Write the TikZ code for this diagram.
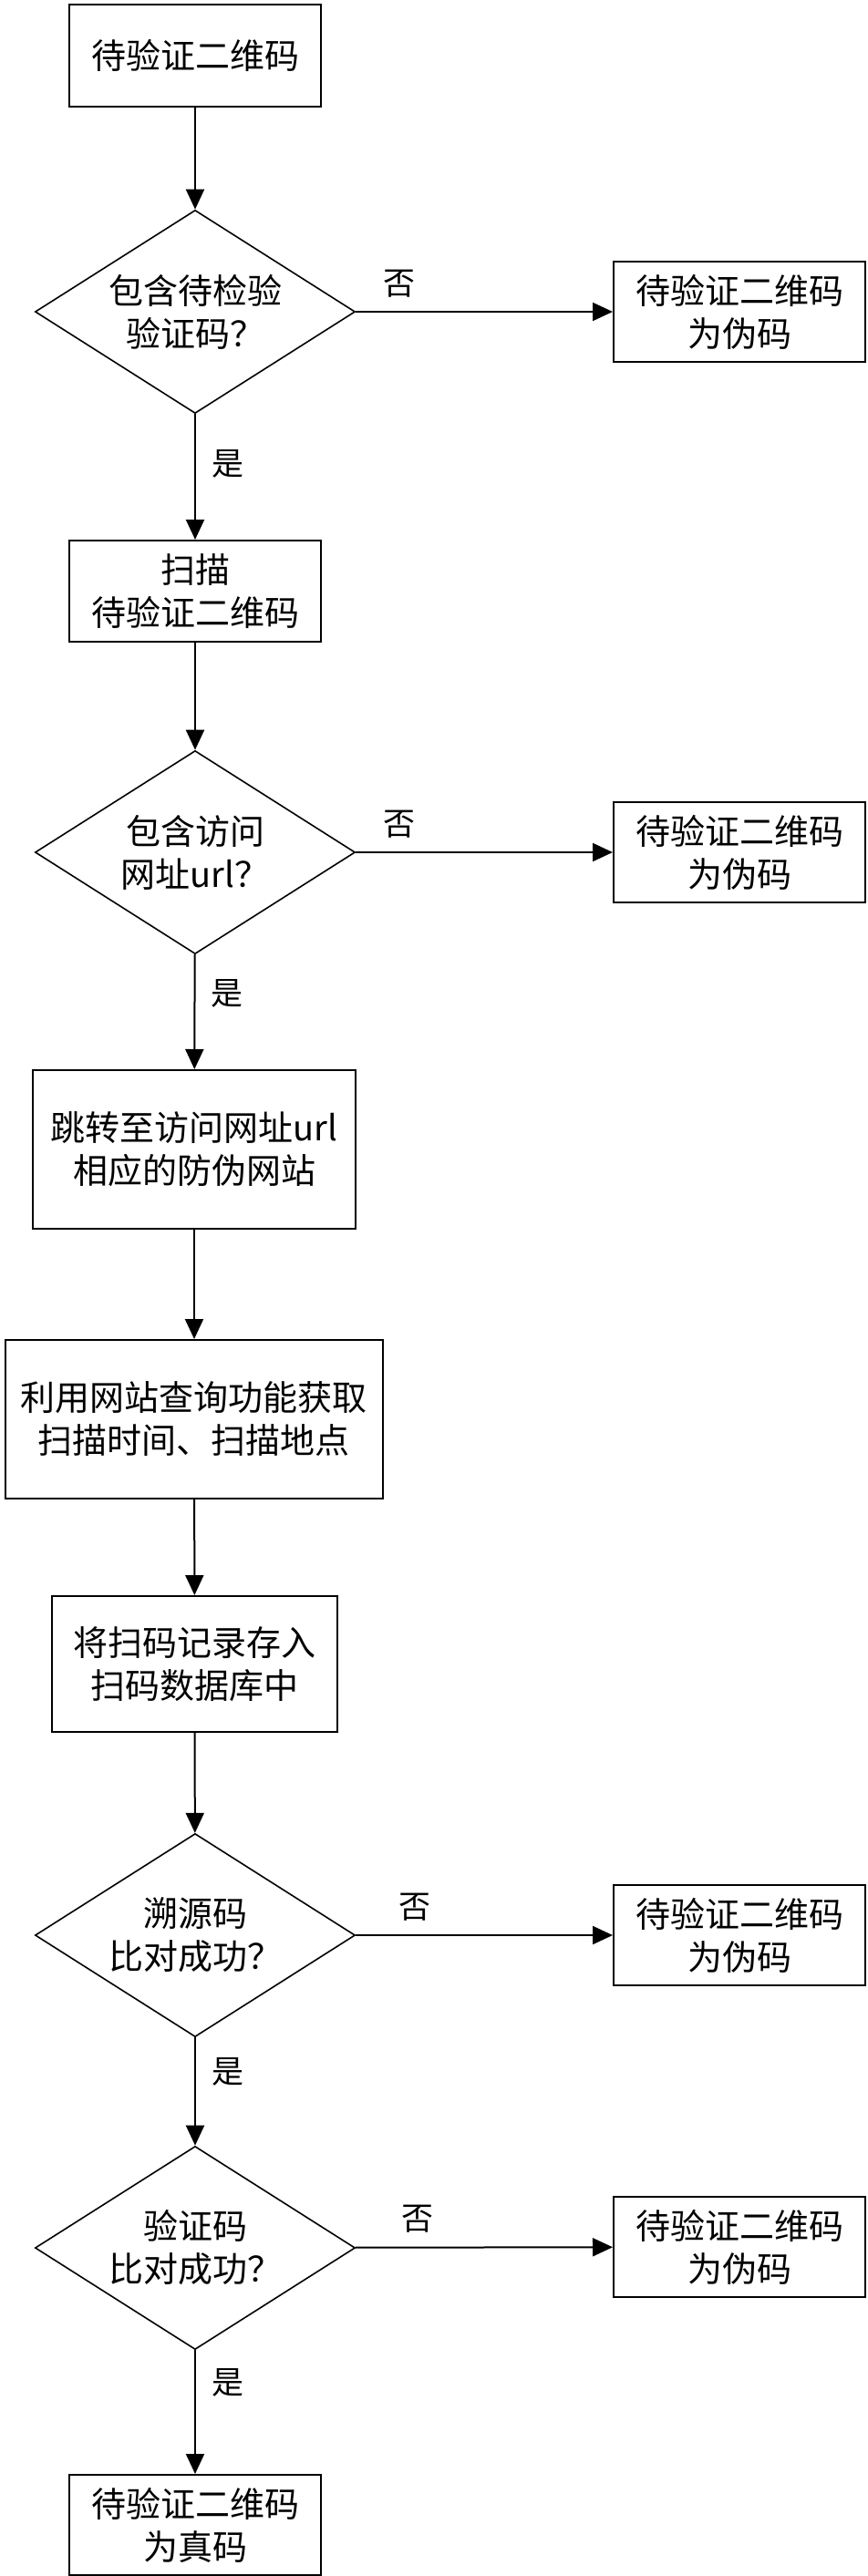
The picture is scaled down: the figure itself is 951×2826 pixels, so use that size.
\documentclass[tikz,border=0pt]{standalone}
\usepackage{fontspec}
\newfontfamily\cjk{Noto Sans CJK SC}
\usetikzlibrary{shapes.geometric}
\usetikzlibrary{arrows.meta}
\tikzset{stepbox/.style={draw, line width=2pt, align=center, inner sep=0pt, font=\cjk\fontsize{38}{47}\selectfont}}
\tikzset{fakebox/.style={stepbox, minimum width=276pt, minimum height=110pt}}
\tikzset{decision/.style={draw, diamond, line width=1.6pt, align=center, inner sep=0pt, aspect=1.57, minimum width=351pt, minimum height=223pt, font=\cjk\fontsize{38}{47}\selectfont}}
\tikzset{flow/.style={line width=2pt, -{Triangle[length=22pt,width=20pt]}}}
\tikzset{lbl/.style={font=\cjk\fontsize{35}{40}\selectfont, inner sep=3pt}}

\begin{document}
\begin{tikzpicture}[x=1pt, y=1pt]
\useasboundingbox (0,0) rectangle (951,-2826);
% main column
\node[stepbox, minimum width=276pt, minimum height=112pt] (start) at (214,-61) {待验证二维码};
\node[decision] (d1) at (214,-342) {包含待检验\\验证码？};
\node[stepbox, minimum width=276pt, minimum height=111pt] (scan) at (214,-648.5) {扫描\\待验证二维码};
\node[decision] (d2) at (214,-935) {包含访问\\网址url？};
\node[stepbox, minimum width=354pt, minimum height=174pt] (jump) at (213,-1261) {跳转至访问网址url\\相应的防伪网站};
\node[stepbox, minimum width=414pt, minimum height=174pt] (query) at (213,-1557) {利用网站查询功能获取\\扫描时间、扫描地点};
\node[stepbox, minimum width=313pt, minimum height=149pt] (store) at (213.5,-1825.5) {将扫码记录存入\\扫码数据库中};
\node[decision] (d3) at (214,-2123) {溯源码\\比对成功？};
\node[decision] (d4) at (214,-2466) {验证码\\比对成功？};
\node[fakebox] (real) at (214,-2770) {待验证二维码\\为真码};
% right column
\node[fakebox] (f1) at (811,-342) {待验证二维码\\为伪码};
\node[fakebox] (f2) at (811,-935) {待验证二维码\\为伪码};
\node[fakebox] (f3) at (811,-2123) {待验证二维码\\为伪码};
\node[fakebox] (f4) at (811,-2465) {待验证二维码\\为伪码};

% yes path
\draw[flow] (start) -- (d1);
\draw[flow] (d1) -- node[lbl, right=14pt, pos=0.4] (y1) {是} (scan);
\draw[flow] (scan) -- (d2);
\draw[flow] (d2) -- node[lbl, right=14pt, pos=0.34] (y2) {是} (jump);
\draw[flow] (jump) -- (query);
\draw[flow] (query) -- (store);
\draw[flow] (store) -- (d3);
\draw[flow] (d3) -- node[lbl, right=14pt, pos=0.32] (y3) {是} (d4);
\draw[flow] (d4) -- node[lbl, right=14pt, pos=0.26] (y4) {是} (real);
% no path
\draw[flow] (d1) -- node[lbl, above=12pt, pos=0.17] (n1) {否} (f1);
\draw[flow] (d2) -- node[lbl, above=12pt, pos=0.17] (n2) {否} (f2);
\draw[flow] (d3) -- node[lbl, above=12pt, pos=0.23] (n3) {否} (f3);
\draw[flow] (d4) -- node[lbl, above=12pt, pos=0.24] (n4) {否} (f4);

\end{tikzpicture}
\end{document}
